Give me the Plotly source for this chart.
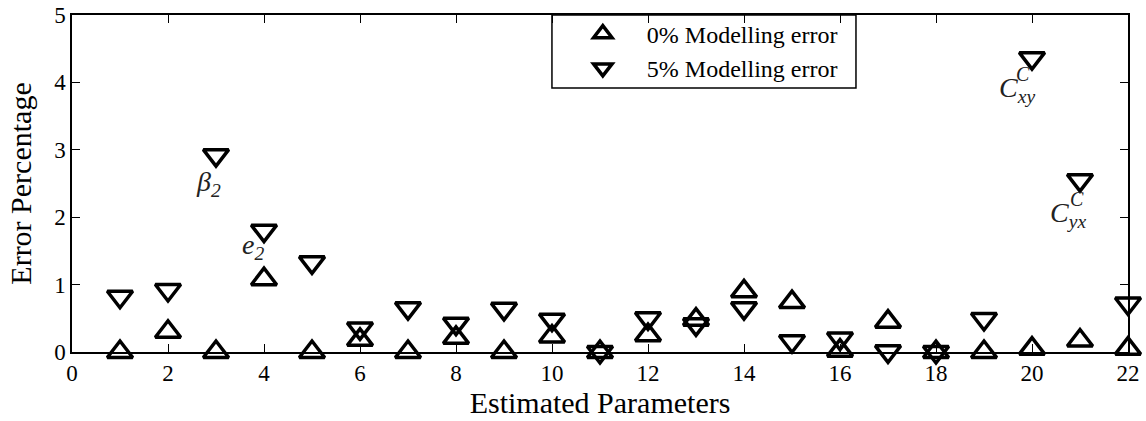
import plotly.graph_objects as go

params = list(range(1, 23))
err_0 = [0, 0.3, 0, 1.08, 0, 0.18, 0, 0.21, 0, 0.23, 0, 0.25, 0.48, 0.9, 0.74,
         0.02, 0.45, 0, 0, 0.05, 0.17, 0.05]
err_5 = [0.82, 0.92, 2.92, 1.8, 1.33, 0.35, 0.65, 0.42, 0.64, 0.48, 0, 0.5, 0.41,
         0.65, 0.16, 0.2, 0.01, 0, 0.49, 4.36, 2.55, 0.72]
series_names = ["0% Modelling error", "5% Modelling error"]
x_ticks = list(range(0, 23, 2))
y_ticks = [0, 1, 2, 3, 4, 5]

FONT = "Liberation Serif, Times New Roman, serif"

fig = go.Figure()
fig.add_trace(go.Scatter(
    x=params, y=err_0, mode="markers", name=series_names[0], cliponaxis=False,
    marker=dict(symbol="triangle-up-open", size=22, color="black", line=dict(width=3.5, color="black"))))
fig.add_trace(go.Scatter(
    x=params, y=err_5, mode="markers", name=series_names[1], cliponaxis=False,
    marker=dict(symbol="triangle-down-open", size=22, color="black", line=dict(width=3.5, color="black"))))

ann_font = dict(family=FONT, size=28, color="#222")
sup_font = dict(family=FONT, size=20, color="#222")
annotations = [
    dict(x=2.85, y=2.5, text="<i>β</i><sub><i>2</i></sub>", showarrow=False, font=ann_font),
    dict(x=3.78, y=1.56, text="<i>e</i><sub><i>2</i></sub>", showarrow=False, font=ann_font),
    dict(x=19.69, y=3.89, text="<i>C</i><sub><i>xy</i></sub>", showarrow=False, font=ann_font),
    dict(x=19.82, y=4.12, text="<i>C</i>", showarrow=False, font=sup_font),
    dict(x=20.75, y=2.04, text="<i>C</i><sub><i>yx</i></sub>", showarrow=False, font=ann_font),
    dict(x=20.93, y=2.27, text="<i>C</i>", showarrow=False, font=sup_font),
]

axis_common = dict(
    showline=True, linecolor="black", linewidth=1.5, mirror="ticks",
    ticks="inside", ticklen=8, tickwidth=1, tickcolor="black",
    showgrid=False, zeroline=False, automargin=False,
    tickfont=dict(family=FONT, size=23, color="black"),
)

fig.update_layout(
    width=1146, height=421,
    margin=dict(l=72, r=18, t=15, b=69),
    plot_bgcolor="white", paper_bgcolor="white",
    font=dict(family=FONT, color="black"),
    xaxis=dict(range=[0, 22], tickvals=x_ticks, ticktext=[str(v) for v in x_ticks],
               title=dict(text="Estimated Parameters", font=dict(family=FONT, size=30), standoff=6),
               **axis_common),
    yaxis=dict(range=[0, 5], tickvals=y_ticks, ticktext=[str(v) for v in y_ticks],
               title=dict(text="Error Percentage", font=dict(family=FONT, size=30), standoff=14),
               **axis_common),
    legend=dict(x=0.461, y=1.01, xanchor="left", yanchor="top", bgcolor="rgba(0,0,0,0)",
                borderwidth=0, font=dict(family=FONT, size=24), itemsizing="trace", itemwidth=78,
                tracegroupgap=0),
    annotations=annotations,
    shapes=[dict(type="rect", xref="paper", yref="paper", x0=0.4545, x1=0.7424, y0=0.7834, y1=1,
                 line=dict(color="black", width=1.5), fillcolor="rgba(0,0,0,0)")],
    showlegend=True,
)

fig.write_html("out.html", config={"displayModeBar": False},
               post_script="document.body.style.margin='0';document.body.style.padding='0';")
